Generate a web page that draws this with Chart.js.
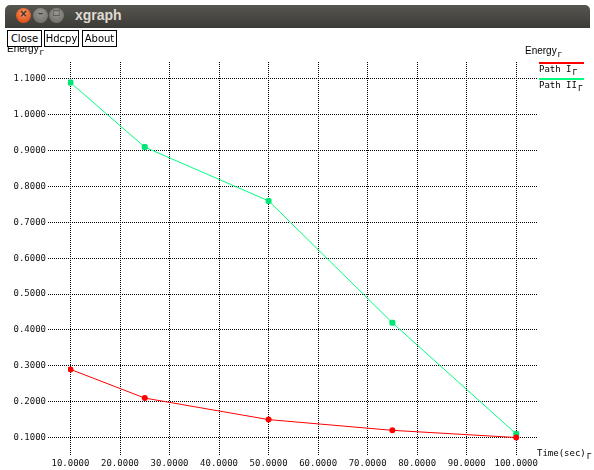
<!DOCTYPE html>
<html>
<head>
<meta charset="utf-8">
<script src="https://cdn.jsdelivr.net/npm/chart.js@4/dist/chart.umd.min.js"></script>
<style>
  html, body { margin: 0; padding: 0; background: #fff; }
  #win { position: relative; width: 594px; height: 470px; overflow: hidden; background: #fff; }
  #titlebar {
    position: absolute; left: 5px; top: 5px; width: 585px; height: 23px;
    border-radius: 5px 5px 0 0;
    background: linear-gradient(#56554f, #3c3b37);
    z-index: 3;
  }
  .wbtn { position: absolute; top: 3px; width: 15px; height: 15px; border-radius: 50%; }
  #wclose { left: 11px; background: radial-gradient(circle at 50% 35%, #f59a6c, #e3531b 70%); }
  #wmin { left: 28px; background: radial-gradient(circle at 50% 35%, #9a9893, #75746f 70%); }
  #wmax { left: 44px; background: radial-gradient(circle at 50% 35%, #9a9893, #75746f 70%); }
  .wbtn span { position: absolute; left: 0; top: 0; width: 15px; height: 15px; line-height: 15px;
    text-align: center; font: bold 10px "DejaVu Sans", sans-serif; color: #3c2a20; }
  #wmin span { color: #3c3b37; }
  #wmax span { color: #3c3b37; font-size: 8px; }
  #wtitle { position: absolute; left: 70px; top: 2px; font: bold 14px "Liberation Sans", sans-serif; color: #dfdbd2; }
  .btn {
    position: absolute; top: 30px; height: 15px; box-sizing: content-box;
    border: 1px solid #000; background: #fff; z-index: 2;
    font: 10px "DejaVu Sans", sans-serif; line-height: 15px; text-align: center; color: #000;
  }
  .lbl { position: absolute; font: 9px "DejaVu Sans Mono", monospace; color: #000; white-space: nowrap; z-index: 1; }
  .sans { font: 10px "Liberation Sans", sans-serif; }
  .g { position: relative; top: 3px; font-size: 8px; margin-left: 1px; }
  .legline { position: absolute; height: 2px; z-index: 4; }
  canvas { position: absolute; left: 0; top: 0; }
</style>
</head>
<body>
<div id="win">
  <div id="titlebar">
    <div class="wbtn" id="wclose"><span>×</span></div>
    <div class="wbtn" id="wmin"><span>–</span></div>
    <div class="wbtn" id="wmax"><span>□</span></div>
    <div id="wtitle">xgraph</div>
  </div>
  <div class="btn" style="left:7px;width:33px;">Close</div>
  <div class="btn" style="left:44px;width:33px;">Hdcpy</div>
  <div class="btn" style="left:82px;width:33px;">About</div>
  <div class="lbl sans" style="left:7px;top:43px;">Energy<span class="g">Γ</span></div>
  <div class="lbl sans" style="left:525px;top:45px;">Energy<span class="g">Γ</span></div>
  <div id="legendBox"></div>
  <div class="lbl" id="xtitle" style="left:537px;top:448px;"></div>
  <canvas id="chart" width="594" height="470"></canvas>
</div>
<script>
// Series data: time (sec) against energy for two paths
const timeValues = [10, 25, 50, 75, 100];
const pathIEnergy = [0.29, 0.21, 0.15, 0.12, 0.10];
const pathIIEnergy = [1.09, 0.91, 0.76, 0.42, 0.11];
const seriesNames = ['Path I', 'Path II'];
const seriesColors = ['#ff0000', '#00ff7f'];
const xTickValues = [10, 20, 30, 40, 50, 60, 70, 80, 90, 100];
const yTickValues = [0.1, 0.2, 0.3, 0.4, 0.5, 0.6, 0.7, 0.8, 0.9, 1.0, 1.1];
const xAxisTitle = 'Time(sec)';

// Legend entries at the right: coloured line above each name
const legendBox = document.getElementById('legendBox');
seriesNames.forEach((name, i) => {
  const line = document.createElement('div');
  line.className = 'legline';
  line.style.left = '539px';
  line.style.width = '45px';
  line.style.top = (62 + i * 16) + 'px';
  line.style.backgroundColor = seriesColors[i];
  legendBox.appendChild(line);
  const t = document.createElement('div');
  t.className = 'lbl';
  t.style.left = '539px';
  t.style.top = (64 + i * 16) + 'px';
  t.innerHTML = name + '<span class="g">Γ</span>';
  legendBox.appendChild(t);
});
document.getElementById('xtitle').innerHTML = xAxisTitle + '<span class="g">Γ</span>';

const toPoints = ys => timeValues.map((x, i) => ({ x, y: ys[i] }));
// Dotted grid: in Chart.js v4 the grid-line dash lives under border.dash
const dottedGrid = { color: '#000', lineWidth: 1, tickBorderDash: [1, 1], tickColor: '#000' };
const dottedBorder = { display: false, dash: [1, 1] };
const tickFont = { family: '"DejaVu Sans Mono", monospace', size: 9 };

new Chart(document.getElementById('chart'), {
  type: 'scatter',
  data: {
    datasets: [
      {
        label: seriesNames[0],
        data: toPoints(pathIEnergy),
        showLine: true,
        borderColor: seriesColors[0],
        backgroundColor: seriesColors[0],
        borderWidth: 1,
        pointRadius: 3,
        pointStyle: 'circle',
        pointBorderWidth: 0
      },
      {
        label: seriesNames[1],
        data: toPoints(pathIIEnergy),
        showLine: true,
        borderColor: seriesColors[1],
        backgroundColor: '#00e676',
        borderWidth: 1,
        pointRadius: 3.5,
        pointStyle: 'rectRounded',
        pointBorderWidth: 0
      }
    ]
  },
  options: {
    responsive: false,
    animation: false,
    layout: { padding: { top: 62, right: 56, left: 0, bottom: 0 } },
    plugins: { legend: { display: false }, tooltip: { enabled: false } },
    scales: {
      x: {
        type: 'linear',
        min: 9.5,
        max: 104.4,
        afterFit: s => { s.height = 15; },
        afterBuildTicks: s => { s.ticks = xTickValues.map(v => ({ value: v })); },
        border: dottedBorder,
        grid: Object.assign({}, dottedGrid, { drawTicks: false }),
        ticks: {
          font: tickFont,
          color: '#111',
          padding: 3,
          maxRotation: 0,
          autoSkip: false,
          callback: v => Number(v).toFixed(4)
        }
      },
      y: {
        type: 'linear',
        min: 0.0512,
        max: 1.1474,
        afterFit: s => { s.width = 68; },
        afterBuildTicks: s => { s.ticks = yTickValues.map(v => ({ value: v })); },
        border: dottedBorder,
        grid: Object.assign({}, dottedGrid, { drawTicks: true, tickLength: 20 }),
        ticks: {
          font: tickFont,
          color: '#111',
          padding: 2,
          autoSkip: false,
          callback: v => Number(v).toFixed(4)
        }
      }
    }
  }
});
</script>
</body>
</html>
